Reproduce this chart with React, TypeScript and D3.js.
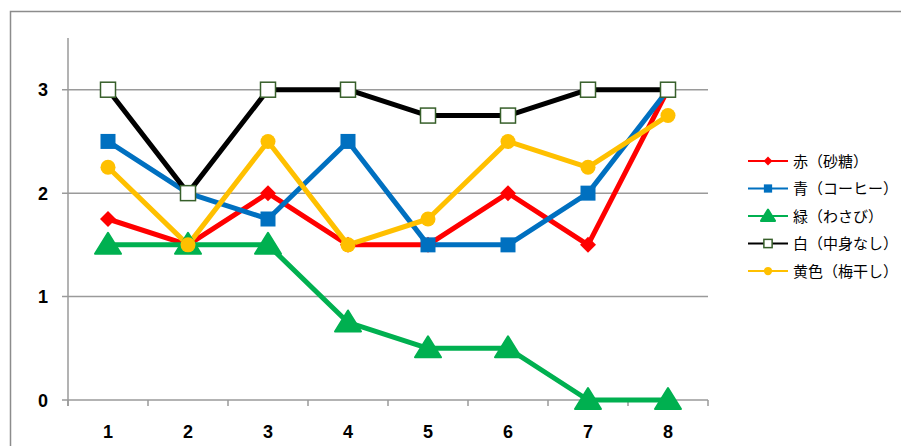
import React from "react";
import * as d3 from "d3";

const categories = ["1", "2", "3", "4", "5", "6", "7", "8"];
const yTicks = [0, 1, 2, 3];
const seriesNames = ["赤（砂糖）", "青（コーヒー）", "緑（わさび）", "白（中身なし）", "黄色（梅干し）"];
const red = [1.75, 1.5, 2, 1.5, 1.5, 2, 1.5, 3];
const blue = [2.5, 2, 1.75, 2.5, 1.5, 1.5, 2, 3];
const green = [1.5, 1.5, 1.5, 0.75, 0.5, 0.5, 0, 0];
const white = [3, 2, 3, 3, 2.75, 2.75, 3, 3];
const yellow = [2.25, 1.5, 2.5, 1.5, 1.75, 2.5, 2.25, 2.75];

const series = [
  { name: seriesNames[0], values: red, color: "#FF0000", marker: "diamond" },
  { name: seriesNames[1], values: blue, color: "#0070C0", marker: "square" },
  { name: seriesNames[2], values: green, color: "#00B050", marker: "triangle" },
  { name: seriesNames[3], values: white, color: "#000000", marker: "open" },
  { name: seriesNames[4], values: yellow, color: "#FFC000", marker: "circle" },
];

const W = 901, H = 446;
const x0 = 68, x1 = 708, yTop = 38, yBot = 400;

function Marker({ type, color, cx, cy, big }: any) {
  const s = big ? 1 : 0.55;
  if (type === "diamond") {
    const r = 8 * s;
    return <path d={`M${cx},${cy - r}L${cx + r},${cy}L${cx},${cy + r}L${cx - r},${cy}Z`} fill={color} />;
  }
  if (type === "square") {
    const r = 7.5 * s;
    return <rect x={cx - r} y={cy - r} width={2 * r} height={2 * r} fill={color} />;
  }
  if (type === "triangle") {
    const w = big ? 13 : 7, h = big ? 12 : 6.5;
    return <path d={`M${cx},${cy - h}L${cx + w},${cy + h * 0.75}L${cx - w},${cy + h * 0.75}Z`} fill={color} stroke={color} strokeWidth={2} strokeLinejoin="round" />;
  }
  if (type === "open") {
    const r = 7.5 * s;
    return <rect x={cx - r} y={cy - r} width={2 * r} height={2 * r} fill="#fff" stroke="#375F2A" strokeWidth={1.5} />;
  }
  const r = 7.5 * s;
  return <circle cx={cx} cy={cy} r={r} fill={color} />;
}

export default function App() {
  const x = d3.scaleBand<string>().domain(categories).range([x0, x1]);
  const y = d3.scaleLinear().domain([0, 3.5]).range([yBot, yTop]);
  const cx = (c: string) => (x(c) as number) + x.bandwidth() / 2;
  const line = d3.line<number>().x((_, i) => cx(categories[i])).y((v) => y(v));
  const tickXs = categories.map((c) => x(c) as number).concat([x1]);
  const numFont = "Liberation Sans, Arial, sans-serif";

  return (
    <svg width={W} height={H} style={{ position: "absolute", left: 0, top: 0, background: "#fff" }}>
      <rect x={10.5} y={11.5} width={W} height={H} fill="#fff" stroke="#8c8c8c" strokeWidth={1.5} />
      {yTicks.map((t) => (
        <g key={t}>
          <line x1={x0 - 6} x2={x1} y1={y(t)} y2={y(t)} stroke="#9a9a9a" strokeWidth={1.5} />
          <text x={48} y={y(t) + 6.5} textAnchor="end" fontFamily={numFont} fontWeight="bold" fontSize={18} fill="#000">{t}</text>
        </g>
      ))}
      <line x1={x0} x2={x0} y1={yTop} y2={yBot + 6} stroke="#9a9a9a" strokeWidth={1.5} />
      {tickXs.map((tx, i) => (
        <line key={i} x1={tx} x2={tx} y1={yBot} y2={yBot + 6} stroke="#9a9a9a" strokeWidth={1.5} />
      ))}
      {categories.map((c) => (
        <text key={c} x={cx(c)} y={438} textAnchor="middle" fontFamily={numFont} fontWeight="bold" fontSize={18} fill="#000">{c}</text>
      ))}
      {series.map((s) => (
        <path key={s.name} d={line(s.values) as string} fill="none" stroke={s.color} strokeWidth={5} strokeLinejoin="round" />
      ))}
      {series.map((s) => (
        <g key={s.name + "m"}>
          {s.values.map((v, i) => (
            <Marker key={i} type={s.marker} color={s.color} cx={cx(categories[i])} cy={y(v)} big={true} />
          ))}
        </g>
      ))}
      {series.map((s, i) => {
        const ly = 161 + i * 27.5;
        return (
          <g key={s.name + "l"}>
            <line x1={748} x2={788} y1={ly} y2={ly} stroke={s.color} strokeWidth={2} />
            <Marker type={s.marker} color={s.color} cx={768} cy={ly} big={false} />
            <text x={793} y={ly + 5.5} fontFamily="Noto Sans CJK JP, sans-serif" fontSize={15} fill="#000">{s.name}</text>
          </g>
        );
      })}
    </svg>
  );
}
